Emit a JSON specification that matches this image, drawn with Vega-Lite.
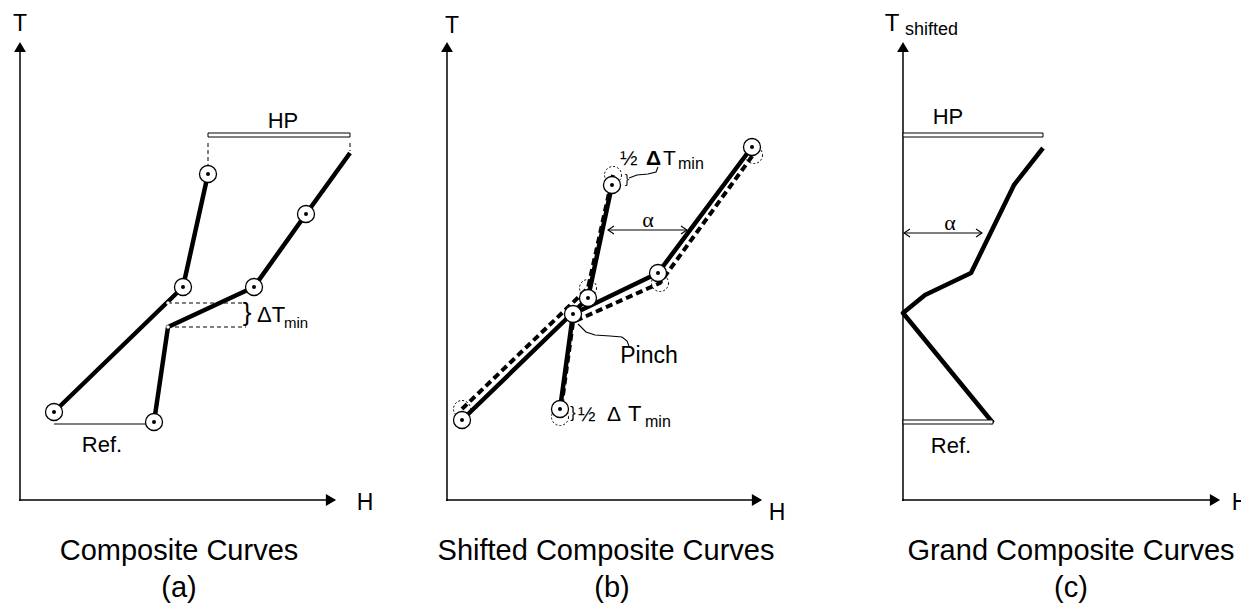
{
  "$schema": "https://vega.github.io/schema/vega-lite/v6.json",
  "width": 1241,
  "height": 603,
  "autosize": {"type": "none"},
  "padding": 0,
  "background": "white",
  "config": {"view": {"stroke": null}},
  "datasets": {
    "axes": [
      {"h": 20, "t": 501, "h2": 20, "t2": 50},
      {"h": 19, "t": 500, "h2": 328, "t2": 500},
      {"h": 447, "t": 501, "h2": 447, "t2": 50},
      {"h": 446, "t": 500, "h2": 755, "t2": 500},
      {"h": 903, "t": 501, "h2": 903, "t2": 50},
      {"h": 902, "t": 500, "h2": 1213, "t2": 500}
    ],
    "arrowUp": [{"h": 20, "t": 47}, {"h": 447, "t": 47}, {"h": 903, "t": 47}],
    "arrowRight": [{"h": 331, "t": 500}, {"h": 757, "t": 500}, {"h": 1215, "t": 500}],
    "solid": [
      {"id": "a1", "i": 1, "h": 54, "t": 412}, {"id": "a1", "i": 2, "h": 183, "t": 287}, {"id": "a1", "i": 3, "h": 208, "t": 174},
      {"id": "a2", "i": 1, "h": 154, "t": 422}, {"id": "a2", "i": 2, "h": 168, "t": 327}, {"id": "a2", "i": 3, "h": 254, "t": 287}, {"id": "a2", "i": 4, "h": 306, "t": 214}, {"id": "a2", "i": 5, "h": 350, "t": 153},
      {"id": "b1", "i": 1, "h": 462, "t": 420}, {"id": "b1", "i": 2, "h": 588, "t": 298}, {"id": "b1", "i": 3, "h": 612, "t": 185},
      {"id": "b2", "i": 1, "h": 560, "t": 409}, {"id": "b2", "i": 2, "h": 573, "t": 314}, {"id": "b2", "i": 3, "h": 658, "t": 273}, {"id": "b2", "i": 4, "h": 752, "t": 147},
      {"id": "c1", "i": 1, "h": 1043, "t": 148}, {"id": "c1", "i": 2, "h": 1014, "t": 185}, {"id": "c1", "i": 3, "h": 971, "t": 273}, {"id": "c1", "i": 4, "h": 925, "t": 295}, {"id": "c1", "i": 5, "h": 903, "t": 313}, {"id": "c1", "i": 6, "h": 993, "t": 423}
    ],
    "dashed": [
      {"id": "d1", "i": 1, "h": 462, "t": 409}, {"id": "d1", "i": 2, "h": 588, "t": 288}, {"id": "d1", "i": 3, "h": 613, "t": 175},
      {"id": "d2", "i": 1, "h": 560, "t": 417}, {"id": "d2", "i": 2, "h": 573, "t": 322}, {"id": "d2", "i": 3, "h": 660, "t": 283}, {"id": "d2", "i": 4, "h": 753, "t": 155}
    ],
    "thin": [
      {"id": "refa", "i": 1, "h": 54, "t": 424}, {"id": "refa", "i": 2, "h": 154, "t": 424},
      {"id": "ab", "i": 1, "h": 608, "t": 230}, {"id": "ab", "i": 2, "h": 687, "t": 230},
      {"id": "abl", "i": 1, "h": 614, "t": 226}, {"id": "abl", "i": 2, "h": 608, "t": 230}, {"id": "abl", "i": 3, "h": 614, "t": 234},
      {"id": "abr", "i": 1, "h": 681, "t": 226}, {"id": "abr", "i": 2, "h": 687, "t": 230}, {"id": "abr", "i": 3, "h": 681, "t": 234},
      {"id": "ac", "i": 1, "h": 904, "t": 233}, {"id": "ac", "i": 2, "h": 982, "t": 233},
      {"id": "acl", "i": 1, "h": 910, "t": 229}, {"id": "acl", "i": 2, "h": 904, "t": 233}, {"id": "acl", "i": 3, "h": 910, "t": 237},
      {"id": "acr", "i": 1, "h": 976, "t": 229}, {"id": "acr", "i": 2, "h": 982, "t": 233}, {"id": "acr", "i": 3, "h": 976, "t": 237},
      {"id": "pc", "i": 1, "h": 578, "t": 324}, {"id": "pc", "i": 2, "h": 586, "t": 332}, {"id": "pc", "i": 3, "h": 595, "t": 335}, {"id": "pc", "i": 4, "h": 610, "t": 336}, {"id": "pc", "i": 5, "h": 622, "t": 337}, {"id": "pc", "i": 6, "h": 627, "t": 341}, {"id": "pc", "i": 7, "h": 629, "t": 346},
      {"id": "tc", "i": 1, "h": 629, "t": 178}, {"id": "tc", "i": 2, "h": 637, "t": 175}, {"id": "tc", "i": 3, "h": 648, "t": 174}, {"id": "tc", "i": 4, "h": 656, "t": 172}, {"id": "tc", "i": 5, "h": 658, "t": 167}
    ],
    "thinDash": [
      {"h": 208, "t": 143, "h2": 208, "t2": 165},
      {"h": 350, "t": 143, "h2": 350, "t2": 151},
      {"h": 168, "t": 303, "h2": 246, "t2": 303},
      {"h": 168, "t": 327, "h2": 246, "t2": 327}
    ],
    "bars": [
      {"h": 208, "t": 133, "h2": 350, "t2": 137},
      {"h": 903, "t": 133, "h2": 1043, "t2": 137},
      {"h": 903, "t": 420, "h2": 993, "t2": 424}
    ],
    "circles": [
      {"h": 54, "t": 412}, {"h": 154, "t": 422}, {"h": 183, "t": 287}, {"h": 254, "t": 287}, {"h": 208, "t": 174}, {"h": 306, "t": 214},
      {"h": 462, "t": 420}, {"h": 560, "t": 409}, {"h": 573, "t": 314}, {"h": 588, "t": 298}, {"h": 612, "t": 185}, {"h": 658, "t": 273}, {"h": 752, "t": 147}
    ],
    "dashCircles": [
      {"h": 462, "t": 409}, {"h": 560, "t": 417}, {"h": 588, "t": 288}, {"h": 613, "t": 175}, {"h": 660, "t": 283}, {"h": 754, "t": 155}
    ],
    "whiteDots": [{"h": 168, "t": 303}, {"h": 168, "t": 327}],
    "centerText": [
      {"h": 20, "t": 31, "s": 23, "label": "T"},
      {"h": 365, "t": 510, "s": 23, "label": "H"},
      {"h": 452, "t": 33, "s": 23, "label": "T"},
      {"h": 777, "t": 520, "s": 23, "label": "H"},
      {"h": 892, "t": 31, "s": 24, "label": "T"},
      {"h": 1240, "t": 510, "s": 23, "label": "H"},
      {"h": 283, "t": 128, "s": 22, "label": "HP"},
      {"h": 948, "t": 124, "s": 22, "label": "HP"},
      {"h": 102, "t": 452, "s": 22, "label": "Ref."},
      {"h": 951, "t": 453, "s": 22, "label": "Ref."},
      {"h": 649, "t": 363, "s": 23, "label": "Pinch"},
      {"h": 179, "t": 560, "s": 29, "label": "Composite Curves"},
      {"h": 179, "t": 597, "s": 29, "label": "(a)"},
      {"h": 606, "t": 560, "s": 29, "label": "Shifted Composite Curves"},
      {"h": 612, "t": 597, "s": 29, "label": "(b)"},
      {"h": 1071, "t": 560, "s": 29, "label": "Grand Composite Curves"},
      {"h": 1071, "t": 597, "s": 29, "label": "(c)"},
      {"h": 247, "t": 321, "s": 26, "label": "}"},
      {"h": 573, "t": 418, "s": 16, "label": "}"},
      {"h": 627, "t": 183, "s": 13, "label": "}"}
    ],
    "leftText": [
      {"h": 905, "t": 35, "s": 18, "label": "shifted"},
      {"h": 257, "t": 322, "s": 22, "label": "ΔT"},
      {"h": 284, "t": 328, "s": 15, "label": "min"},
      {"h": 620, "t": 165, "s": 21, "label": "½"},
      {"h": 663, "t": 165, "s": 21, "label": "T"},
      {"h": 678, "t": 169, "s": 16, "label": "min"},
      {"h": 578, "t": 421, "s": 21, "label": "½"},
      {"h": 607, "t": 421, "s": 21, "label": "Δ"},
      {"h": 628, "t": 421, "s": 22, "label": "T"},
      {"h": 645, "t": 427, "s": 16, "label": "min"}
    ],
    "boldText": [
      {"h": 646, "t": 165, "s": 21, "label": "Δ"}
    ],
    "serifText": [
      {"h": 648, "t": 227, "s": 22, "label": "α"},
      {"h": 950, "t": 230, "s": 22, "label": "α"}
    ]
  },
  "encoding": {
    "x": {"field": "h", "type": "quantitative", "scale": {"domain": [0, 1241], "nice": false, "zero": false}, "axis": null},
    "y": {"field": "t", "type": "quantitative", "scale": {"domain": [0, 603], "nice": false, "zero": false, "reverse": true}, "axis": null}
  },
  "layer": [
    {
      "data": {"name": "axes"},
      "mark": {"type": "rule", "color": "black", "strokeWidth": 1.5},
      "encoding": {"x2": {"field": "h2"}, "y2": {"field": "t2"}}
    },
    {
      "data": {"name": "arrowUp"},
      "mark": {"type": "point", "shape": "triangle-up", "filled": true, "color": "black", "size": 140, "opacity": 1}
    },
    {
      "data": {"name": "arrowRight"},
      "mark": {"type": "point", "shape": "triangle-right", "filled": true, "color": "black", "size": 140, "opacity": 1}
    },
    {
      "data": {"name": "thinDash"},
      "mark": {"type": "rule", "color": "black", "strokeWidth": 1, "strokeDash": [4, 3]},
      "encoding": {"x2": {"field": "h2"}, "y2": {"field": "t2"}}
    },
    {
      "data": {"name": "thin"},
      "mark": {"type": "line", "color": "black", "strokeWidth": 1.1},
      "encoding": {"detail": {"field": "id", "type": "nominal"}, "order": {"field": "i", "type": "quantitative"}}
    },
    {
      "data": {"name": "dashed"},
      "mark": {"type": "line", "color": "black", "strokeWidth": 4, "strokeDash": [7, 4]},
      "encoding": {"detail": {"field": "id", "type": "nominal"}, "order": {"field": "i", "type": "quantitative"}}
    },
    {
      "data": {"name": "solid"},
      "mark": {"type": "line", "color": "black", "strokeWidth": 4.5, "strokeJoin": "round"},
      "encoding": {"detail": {"field": "id", "type": "nominal"}, "order": {"field": "i", "type": "quantitative"}}
    },
    {
      "data": {"name": "bars"},
      "mark": {"type": "rect", "fill": "white", "stroke": "black", "strokeWidth": 1},
      "encoding": {"x2": {"field": "h2"}, "y2": {"field": "t2"}}
    },
    {
      "data": {"name": "dashCircles"},
      "mark": {"type": "point", "shape": "circle", "filled": false, "stroke": "black", "strokeWidth": 1, "strokeDash": [2, 2], "size": 290, "opacity": 1}
    },
    {
      "data": {"name": "circles"},
      "mark": {"type": "point", "shape": "circle", "filled": true, "fill": "white", "stroke": "black", "strokeWidth": 1.3, "size": 290, "opacity": 1, "fillOpacity": 1}
    },
    {
      "data": {"name": "circles"},
      "mark": {"type": "point", "shape": "circle", "filled": true, "color": "black", "size": 16, "opacity": 1}
    },
    {
      "data": {"name": "whiteDots"},
      "mark": {"type": "point", "shape": "circle", "filled": true, "color": "white", "size": 12, "opacity": 1}
    },
    {
      "data": {"name": "centerText"},
      "mark": {"type": "text", "font": "Liberation Sans", "align": "center", "baseline": "alphabetic", "color": "black"},
      "encoding": {"text": {"field": "label"}, "size": {"field": "s", "type": "quantitative", "scale": null}}
    },
    {
      "data": {"name": "leftText"},
      "mark": {"type": "text", "font": "Liberation Sans", "align": "left", "baseline": "alphabetic", "color": "black"},
      "encoding": {"text": {"field": "label"}, "size": {"field": "s", "type": "quantitative", "scale": null}}
    },
    {
      "data": {"name": "boldText"},
      "mark": {"type": "text", "font": "Liberation Sans", "fontWeight": "bold", "align": "left", "baseline": "alphabetic", "color": "black"},
      "encoding": {"text": {"field": "label"}, "size": {"field": "s", "type": "quantitative", "scale": null}}
    },
    {
      "data": {"name": "serifText"},
      "mark": {"type": "text", "font": "Liberation Serif", "align": "center", "baseline": "alphabetic", "color": "black"},
      "encoding": {"text": {"field": "label"}, "size": {"field": "s", "type": "quantitative", "scale": null}}
    }
  ]
}
